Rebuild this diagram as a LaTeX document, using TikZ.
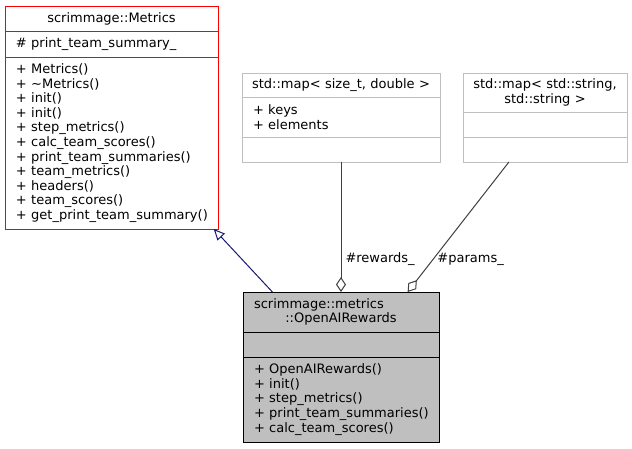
\documentclass[tikz,border=0pt]{standalone}
\usepackage{fontspec}
\setmainfont{DejaVu Sans}
\usepackage{tikz}
\usetikzlibrary{arrows.meta,calc,positioning}

\definecolor{midnightblue}{RGB}{25,25,112}
\definecolor{boxgray}{RGB}{191,191,191}
\definecolor{edgegray}{RGB}{64,64,64}

\begin{document}
\begin{tikzpicture}[
  x=1pt, y=-1pt,
  font=\fontsize{13}{14.6}\selectfont,
  part/.style={
    rectangle, draw, line width=1pt, outer sep=0pt,
    anchor=north, inner xsep=11pt, inner ysep=2pt,
    align=left
  },
  basepart/.style={part, draw=red, text width=191pt},
  mappart/.style={part, draw=boxgray, text width=176pt},
  strpart/.style={part, draw=boxgray, text width=142pt},
  mainpart/.style={part, draw=black, fill=boxgray, text width=174pt},
  inherit/.style={-{Triangle[open, length=11pt, width=10pt]}, line width=1pt, draw=midnightblue},
  aggr/.style={{Diamond[open, length=15pt, width=10pt]}-, line width=1pt, draw=edgegray},
  edgelbl/.style={inner sep=0pt}
]
\useasboundingbox[fill=white] (0,0) rectangle (632,448);

% =========================================================================
% Basisklasse scrimmage::Metrics
% =========================================================================
\node[basepart, align=center, minimum height=25pt] (metHead) at (111.5,6) {scrimmage::Metrics};
\node[basepart, minimum height=26pt, below=0pt of metHead] (metAttr) {\#~print\_team\_summary\_};
\node[basepart, minimum height=172pt, below=0pt of metAttr] (metOps) {%
  +~Metrics()\\
  +~\textasciitilde Metrics()\\
  +~init()\\
  +~init()\\
  +~step\_metrics()\\
  +~calc\_team\_scores()\\
  +~print\_team\_summaries()\\
  +~team\_metrics()\\
  +~headers()\\
  +~team\_scores()\\
  +~get\_print\_team\_summary()
};

% =========================================================================
% std::map< size_t, double >
% =========================================================================
\node[mappart, align=center, minimum height=24pt] (rwHead) at (341,73) {\makebox[\linewidth]{std::map< size\_t, double >}};
\node[mappart, minimum height=40pt, below=0pt of rwHead] (rwAttr) {+~keys\\ +~elements};
\node[mappart, minimum height=25pt, below=0pt of rwAttr] (rwOps) {};

% =========================================================================
% std::map< std::string, std::string >
% =========================================================================
\node[strpart, align=center, minimum height=39pt] (parHead) at (545,73) {%
  \makebox[\linewidth]{std::map< std::string,}\\
  \makebox[\linewidth]{std::string >}
};
\node[strpart, minimum height=25pt, below=0pt of parHead] (parAttr) {};
\node[strpart, minimum height=25pt, below=0pt of parAttr] (parOps) {};

% =========================================================================
% scrimmage::metrics::OpenAIRewards
% =========================================================================
\node[mainpart, align=center, minimum height=40pt] (oaHead) at (341,292) {%
  scrimmage::metrics\hfill\null\\
  ::OpenAIRewards
};
\node[mainpart, minimum height=25pt, below=0pt of oaHead] (oaAttr) {};
\node[mainpart, minimum height=85pt, below=0pt of oaAttr] (oaOps) {%
  +~OpenAIRewards()\\
  +~init()\\
  +~step\_metrics()\\
  +~print\_team\_summaries()\\
  +~calc\_team\_scores()
};

% =========================================================================
% Kanten
% =========================================================================
% Vererbung
\draw[inherit] ($(oaHead.north west)!0.15!(oaHead.north east)$) -- ($(metOps.south west)!0.98!(metOps.south east)$);

% Aggregation rewards_
\draw[aggr] (oaHead.north) -- node[edgelbl, pos=0.25, right=4pt] {\#rewards\_} (rwOps.south);

% Aggregation params_
\draw[aggr] ($(oaHead.north west)!0.84!(oaHead.north east)$) --
  node[edgelbl, pos=0.25, right=4pt] {\#params\_} ($(parOps.south west)!0.28!(parOps.south east)$);

\end{tikzpicture}
\end{document}
